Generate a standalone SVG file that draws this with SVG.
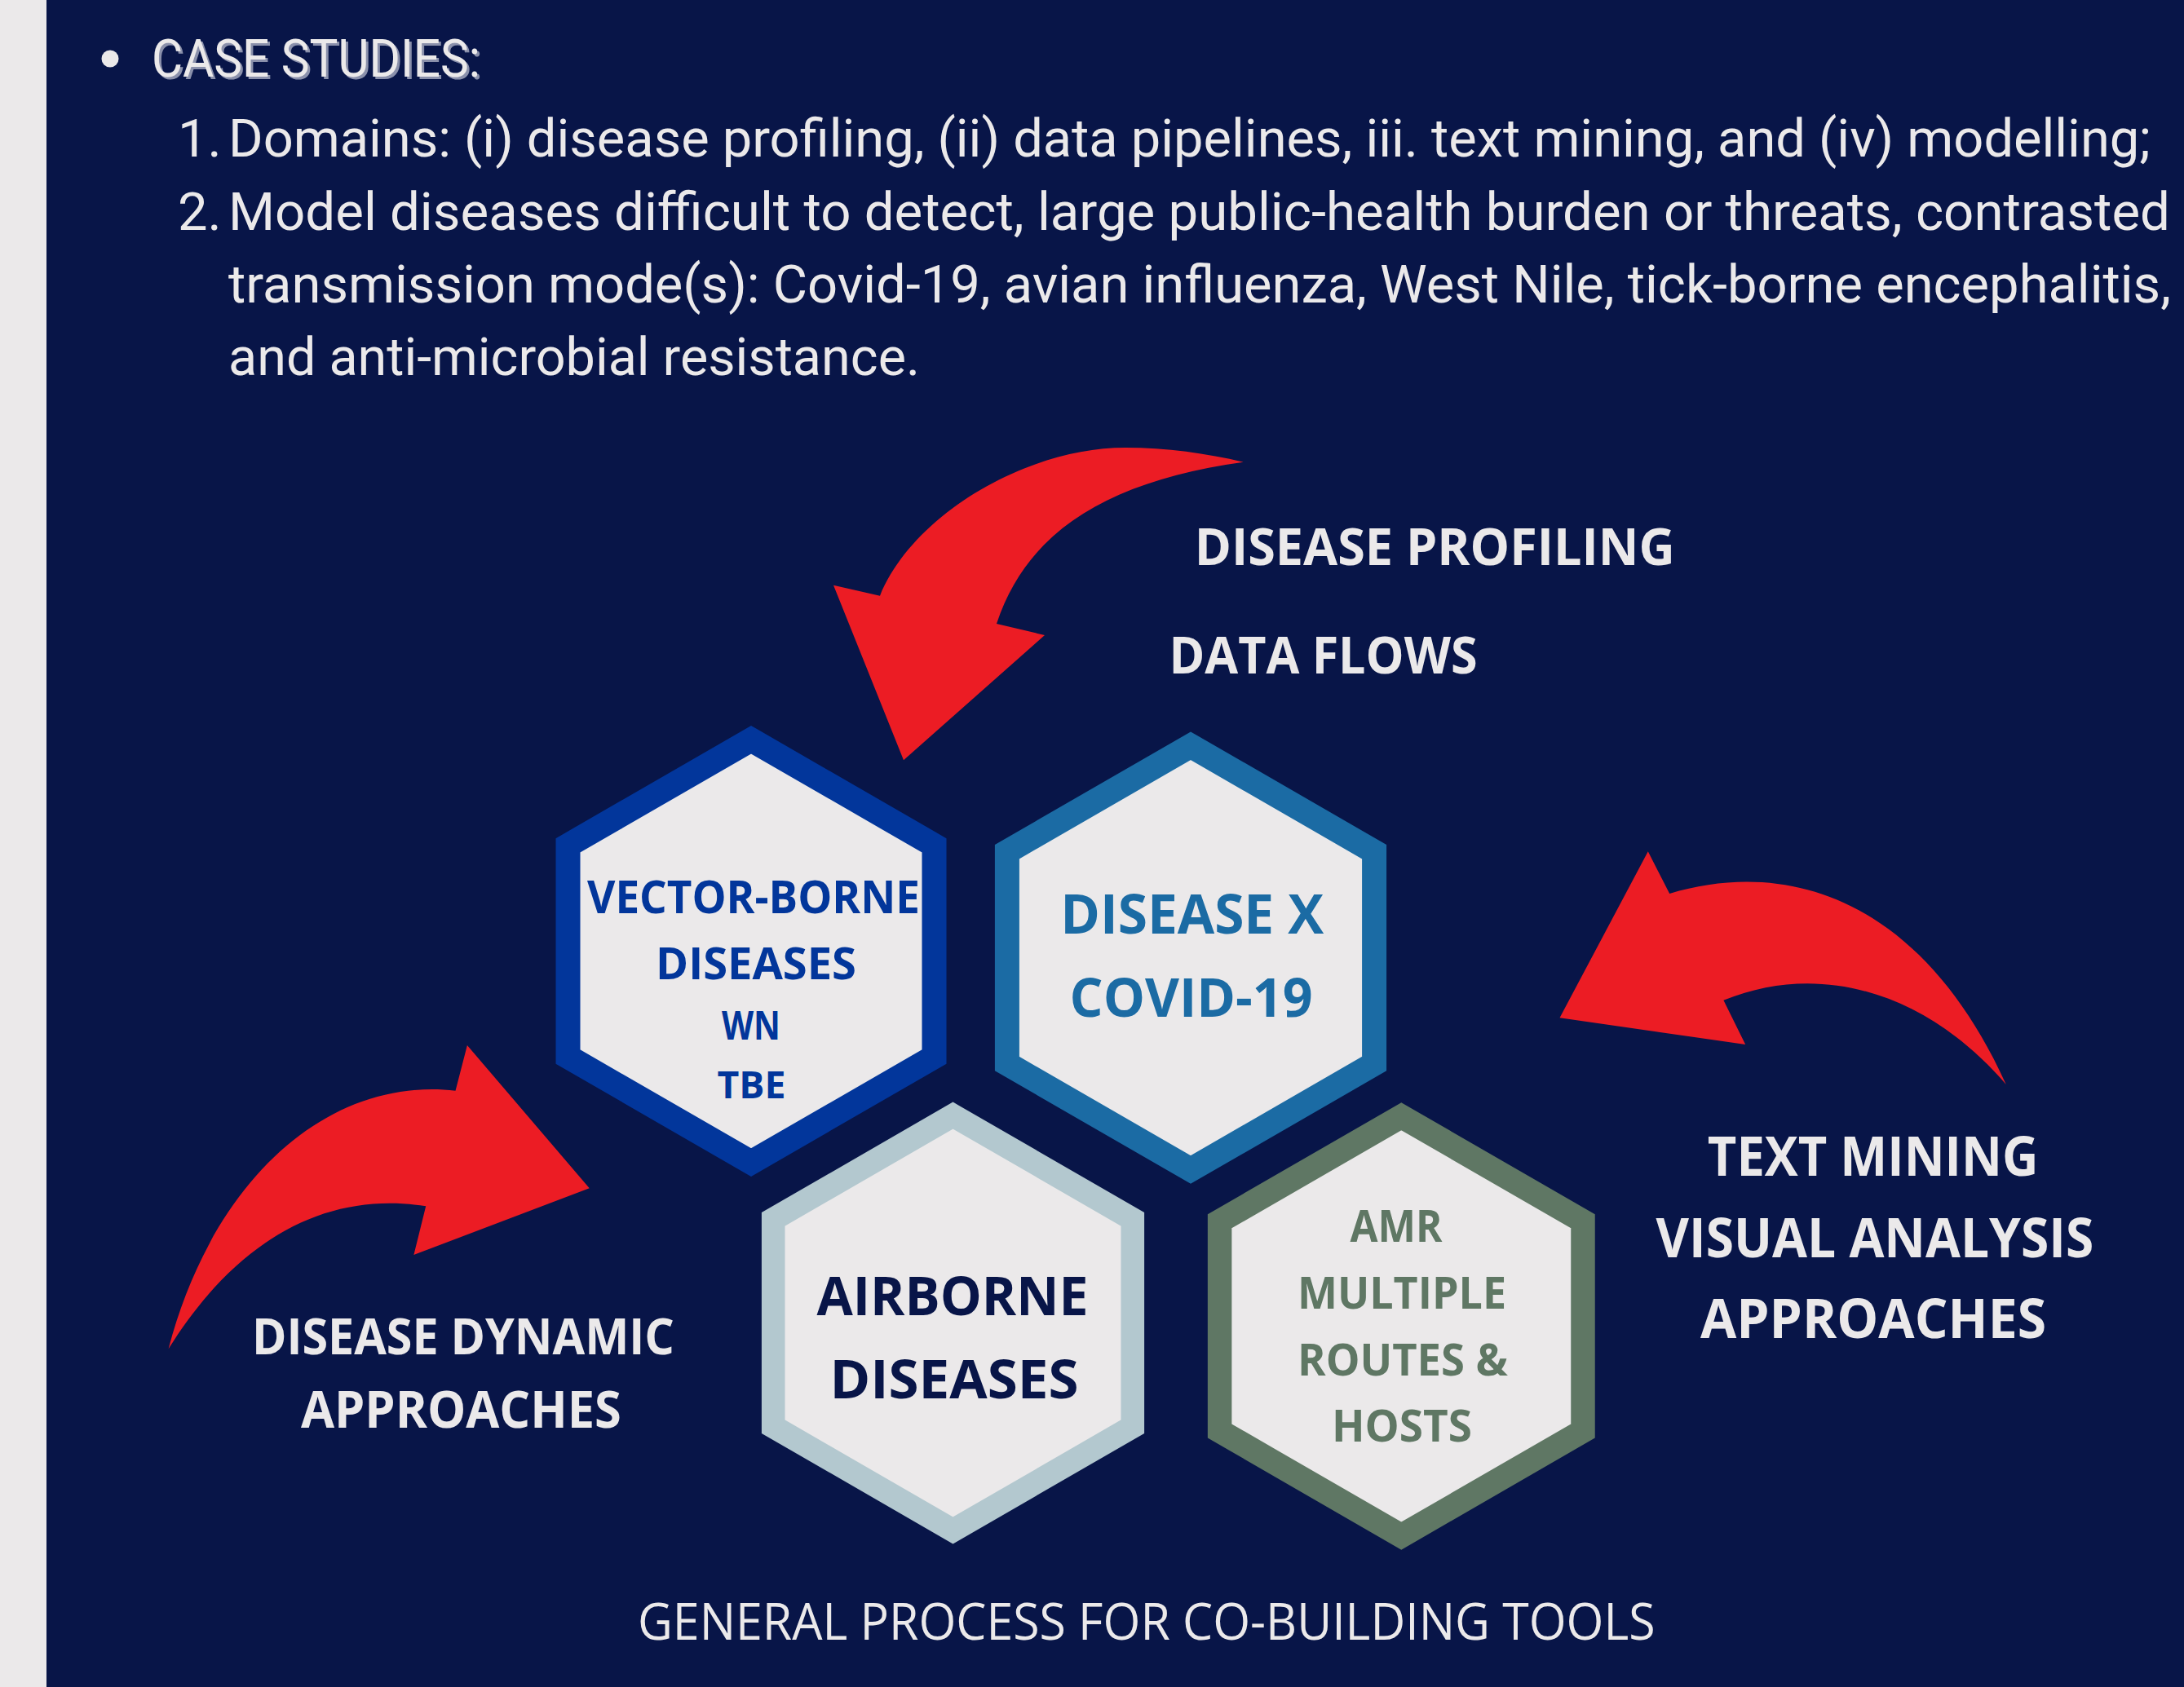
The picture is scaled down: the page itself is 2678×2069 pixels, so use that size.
<svg xmlns="http://www.w3.org/2000/svg" width="2678" height="2069" viewBox="0 0 2678 2069">
<defs>
<style>
.body{font-family:Roboto,"Liberation Sans",sans-serif;font-size:65px;fill:#ebe9ea;}
.lbl{font-family:"Open Sans","Liberation Sans",sans-serif;font-weight:700;fill:#ebe9ea;}
.hx{font-family:"Open Sans","Liberation Sans",sans-serif;font-weight:700;text-anchor:middle;}
.hexfill{fill:#ebe9ea;stroke-linejoin:miter;}
.arrow{fill:#ec1c24;}
</style>
<filter id="shadow" x="-5%" y="-20%" width="110%" height="150%">
<feDropShadow dx="3" dy="3" stdDeviation="0.6" flood-color="#8a90ab" flood-opacity="1"/>
</filter>
</defs>
<rect x="0" y="0" width="2678" height="2069" fill="#081548"/>
<rect x="0" y="0" width="57" height="2069" fill="#ebe9ea"/>

<g id="header">
<circle cx="135" cy="72" r="10.5" fill="#ebe9ea"/>
<text class="body" x="186" y="94" font-size="62" textLength="403" lengthAdjust="spacingAndGlyphs" filter="url(#shadow)">CASE STUDIES:</text>
<text class="body" x="218" y="191.7">1.</text>
<text class="body" x="280" y="191.7" textLength="2357" lengthAdjust="spacingAndGlyphs">Domains: (i) disease profiling, (ii) data pipelines, iii. text mining, and (iv) modelling;</text>
<text class="body" x="218" y="281.7">2.</text>
<text class="body" x="280" y="281.7" textLength="2381" lengthAdjust="spacingAndGlyphs">Model diseases difficult to detect, large public-health burden or threats, contrasted</text>
<text class="body" x="280" y="370.5" textLength="2382" lengthAdjust="spacingAndGlyphs">transmission mode(s): Covid-19, avian influenza, West Nile, tick-borne encephalitis,</text>
<text class="body" x="280" y="460" textLength="848" lengthAdjust="spacingAndGlyphs">and anti-microbial resistance.</text>
</g>

<g id="connectors">
<path class="arrow" d="M1524.6,566.7 C1480,556 1430,549 1380,549 C1260,549 1120,630 1079,730.7 L1022,717.7 L1108,932.3 L1281,779 L1222,765 C1260,650 1360,590 1524.6,566.7 Z"/>
<path class="arrow" d="M1912.5,1248.3 L2020.8,1044.3 L2047.2,1096 C2200,1050 2360,1110 2459.8,1330 C2370,1225 2240,1175 2113.4,1226.7 L2140.2,1281 Z"/>
<path class="arrow" d="M206.6,1654.3 C260,1450 400,1320 558.5,1337.7 L572.9,1282 L722.7,1457.3 L507.4,1539 L522.2,1479.3 C400,1460 290,1520 206.6,1654.3 Z"/>
</g>

<g id="hex-vector-borne">
<polygon class="hexfill" stroke="#02369b" stroke-width="30" points="921,907.2 1145.5,1036.8 1145.5,1296 921,1425.6 696.5,1296 696.5,1036.8"/>
<text class="hx" fill="#02369b" x="924" y="1119.5" font-size="55" textLength="408" lengthAdjust="spacingAndGlyphs">VECTOR-BORNE</text>
<text class="hx" fill="#02369b" x="927" y="1201" font-size="54" textLength="246" lengthAdjust="spacingAndGlyphs">DISEASES</text>
<text class="hx" fill="#02369b" x="921" y="1274.5" font-size="49" textLength="72" lengthAdjust="spacingAndGlyphs">WN</text>
<text class="hx" fill="#02369b" x="921.5" y="1346.5" font-size="46" textLength="84" lengthAdjust="spacingAndGlyphs">TBE</text>
</g>

<g id="hex-disease-x">
<polygon class="hexfill" stroke="#1b6ba4" stroke-width="30" points="1460,914.7 1685.1,1044.7 1685.1,1304.6 1460,1434.5 1234.9,1304.6 1234.9,1044.7"/>
<text class="hx" fill="#1b6ba4" x="1461.7" y="1144.8" font-size="66" textLength="323" lengthAdjust="spacingAndGlyphs">DISEASE X</text>
<text class="hx" fill="#1b6ba4" x="1460.6" y="1247" font-size="67" textLength="298" lengthAdjust="spacingAndGlyphs">COVID-19</text>
</g>

<g id="hex-airborne">
<polygon class="hexfill" stroke="#b3c8cf" stroke-width="28.6" points="1168.5,1368.1 1388.8,1495.3 1388.8,1749.7 1168.5,1876.9 948.2,1749.7 948.2,1495.3"/>
<text class="hx" fill="#081548" x="1168" y="1613" font-size="67" textLength="333" lengthAdjust="spacingAndGlyphs">AIRBORNE</text>
<text class="hx" fill="#081548" x="1170" y="1714.6" font-size="67" textLength="305" lengthAdjust="spacingAndGlyphs">DISEASES</text>
</g>

<g id="hex-amr">
<polygon class="hexfill" stroke="#5f7764" stroke-width="29.5" points="1718.3,1369.2 1941,1497.8 1941,1755 1718.3,1883.6 1495.6,1755 1495.6,1497.8"/>
<text class="hx" fill="#5f7764" x="1712" y="1523.3" font-size="53" textLength="113" lengthAdjust="spacingAndGlyphs">AMR</text>
<text class="hx" fill="#5f7764" x="1719" y="1604.8" font-size="53" textLength="256" lengthAdjust="spacingAndGlyphs">MULTIPLE</text>
<text class="hx" fill="#5f7764" x="1720" y="1686.7" font-size="53" textLength="258" lengthAdjust="spacingAndGlyphs">ROUTES &amp;</text>
<text class="hx" fill="#5f7764" x="1719" y="1768.2" font-size="53" textLength="172" lengthAdjust="spacingAndGlyphs">HOSTS</text>
</g>

<g id="label-profiling">
<text class="lbl" x="1464.7" y="693.3" font-size="63" textLength="589" lengthAdjust="spacingAndGlyphs">DISEASE PROFILING</text>
<text class="lbl" x="1433.5" y="825.7" font-size="62" textLength="378" lengthAdjust="spacingAndGlyphs">DATA FLOWS</text>
</g>

<g id="label-text-mining" text-anchor="middle">
<text class="lbl" x="2296.6" y="1442.3" font-size="66" textLength="405.6" lengthAdjust="spacingAndGlyphs">TEXT MINING</text>
<text class="lbl" x="2298.9" y="1542.3" font-size="66" textLength="536.6" lengthAdjust="spacingAndGlyphs">VISUAL ANALYSIS</text>
<text class="lbl" x="2297" y="1640.7" font-size="66" textLength="424" lengthAdjust="spacingAndGlyphs">APPROACHES</text>
</g>

<g id="label-dynamic" text-anchor="middle">
<text class="lbl" x="567.9" y="1661" font-size="61" textLength="518" lengthAdjust="spacingAndGlyphs">DISEASE DYNAMIC</text>
<text class="lbl" x="565.4" y="1751.3" font-size="62" textLength="393" lengthAdjust="spacingAndGlyphs">APPROACHES</text>
</g>

<g id="footer">
<text x="782" y="2010.7" font-family="'Open Sans','Liberation Sans',sans-serif" font-size="62" fill="#ebe9ea" textLength="1247.5" lengthAdjust="spacingAndGlyphs">GENERAL PROCESS FOR CO-BUILDING TOOLS</text>
</g>
</svg>
